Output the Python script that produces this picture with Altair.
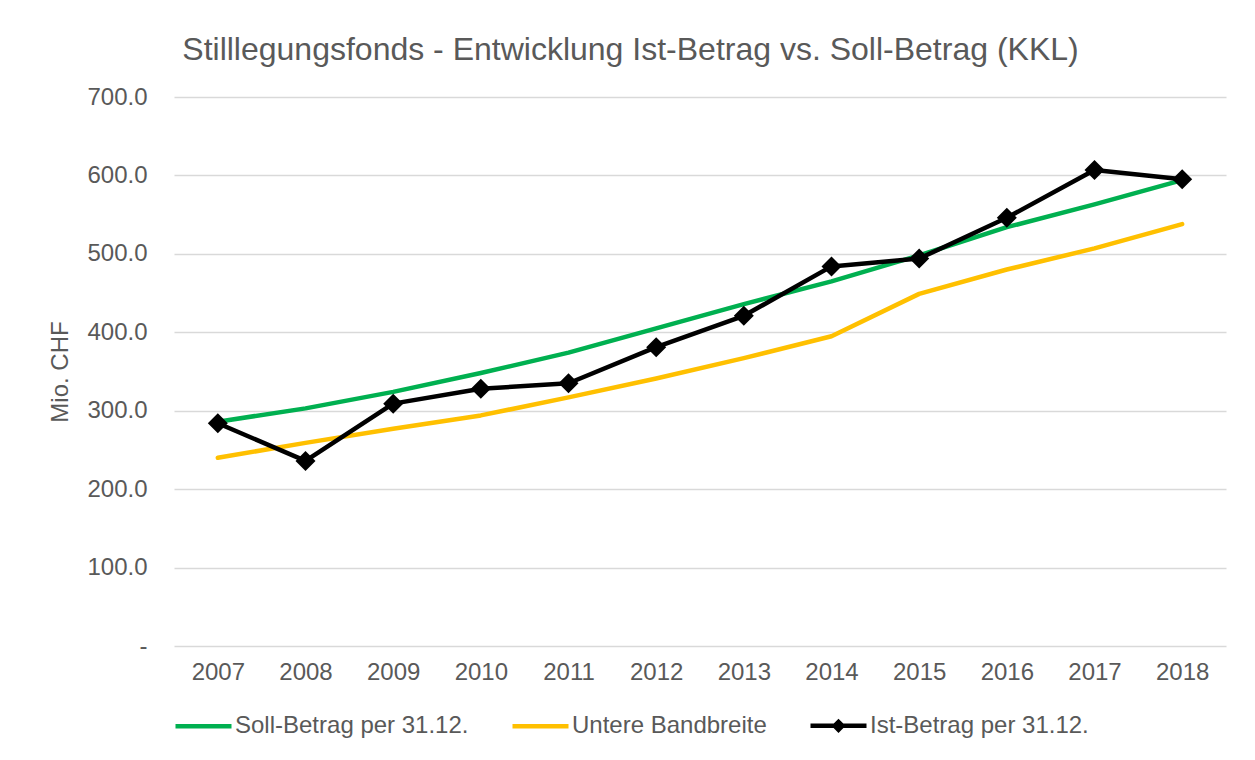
import altair as alt
import pandas as pd

years = ["2007", "2008", "2009", "2010", "2011", "2012", "2013", "2014", "2015", "2016", "2017", "2018"]
soll = [286, 303, 324, 348, 374, 405, 436, 465, 498, 534, 563, 594]
unter = [240, 259, 277, 294, 317, 341, 367, 395, 449, 480, 507, 538]
ist = [284, 236, 309, 328, 335, 381, 421, 484, 494, 546, 607, 595]

series_names = ["Soll-Betrag per 31.12.", "Untere Bandbreite", "Ist-Betrag per 31.12."]
colors = ["#00B050", "#FFC000", "#000000"]
legend_shapes = ["M-1,0H1", "M-1,0H1", "M-1,0H1M-0.14,0L0,-0.14L0.14,0L0,0.14Z"]
y_ticks = [0, 100, 200, 300, 400, 500, 600, 700]

rows = []
for i, yr in enumerate(years):
    for name, vals in zip(series_names, [soll, unter, ist]):
        rows.append({"Jahr": yr, "Serie": name, "Wert": vals[i]})
df = pd.DataFrame(rows)

FONT = "Liberation Sans"
TXT = "#595959"

x = alt.X("Jahr:O", sort=years, title=None,
          axis=alt.Axis(labelAngle=0, domain=False, ticks=False, grid=False,
                        labelFontSize=24, labelColor=TXT, labelFont=FONT, labelPadding=14))
y = alt.Y("Wert:Q", scale=alt.Scale(domain=[0, 700], nice=False),
          axis=alt.Axis(values=y_ticks, title="Mio. CHF",
                        labelExpr="datum.value == 0 ? '-' : format(datum.value, '.1f')",
                        labelFontSize=24, labelColor=TXT, labelFont=FONT, labelPadding=27,
                        titleFontSize=24, titleColor=TXT, titleFont=FONT, titleFontWeight="normal",
                        titlePadding=14, domain=False, ticks=False,
                        gridColor="#D9D9D9", gridWidth=1.5))

legend = alt.Legend(title=None, orient="none", legendX=-1, legendY=598, direction="horizontal",
                    columns=3, labelFontSize=24, labelColor=TXT, labelFont=FONT, labelLimit=400,
                    symbolSize=3136, symbolStrokeWidth=4.5, symbolOpacity=1,
                    labelOffset=1, columnPadding=34, padding=0)

color_scale = alt.Scale(domain=series_names, range=colors)
shape_scale = alt.Scale(domain=series_names, range=legend_shapes)

base = alt.Chart(df)

line_layers = []
for name, col in zip(series_names, colors):
    line_layers.append(
        base.transform_filter(alt.datum.Serie == name).mark_line(
            strokeWidth=4.5, strokeCap="round", strokeJoin="round", color=col
        ).encode(x=x, y=y)
    )

diamonds = base.transform_filter(alt.datum.Serie == series_names[2]).mark_point(
    filled=True, shape="diamond", size=400, opacity=1, color="#000000", strokeWidth=0
).encode(x=x, y=y)

# legend-only layer (no rows), supplies the combined line/marker legend symbols
legend_layer = base.transform_filter("false").mark_point(
    filled=False, strokeWidth=4.5, size=3136
).encode(
    x=x, y=y,
    color=alt.Color("Serie:N", scale=color_scale, legend=legend),
    shape=alt.Shape("Serie:N", scale=shape_scale, legend=legend),
)

chart = alt.layer(*line_layers, diamonds, legend_layer).properties(
    width=1052, height=549,
    autosize=alt.AutoSizeParams(type="none"),
    padding={"left": 166, "top": 89, "right": 20, "bottom": 100},
    title=alt.TitleParams(
        "Stilllegungsfonds - Entwicklung Ist-Betrag vs. Soll-Betrag (KKL)",
        fontSize=32, font=FONT, color=TXT, fontWeight="normal",
        anchor="middle", frame="bounds", offset=18, dx=-7),
).configure(font=FONT).configure_view(stroke="transparent", strokeWidth=0)

chart.save("out.html", embed_options={"renderer": "svg", "actions": False})
